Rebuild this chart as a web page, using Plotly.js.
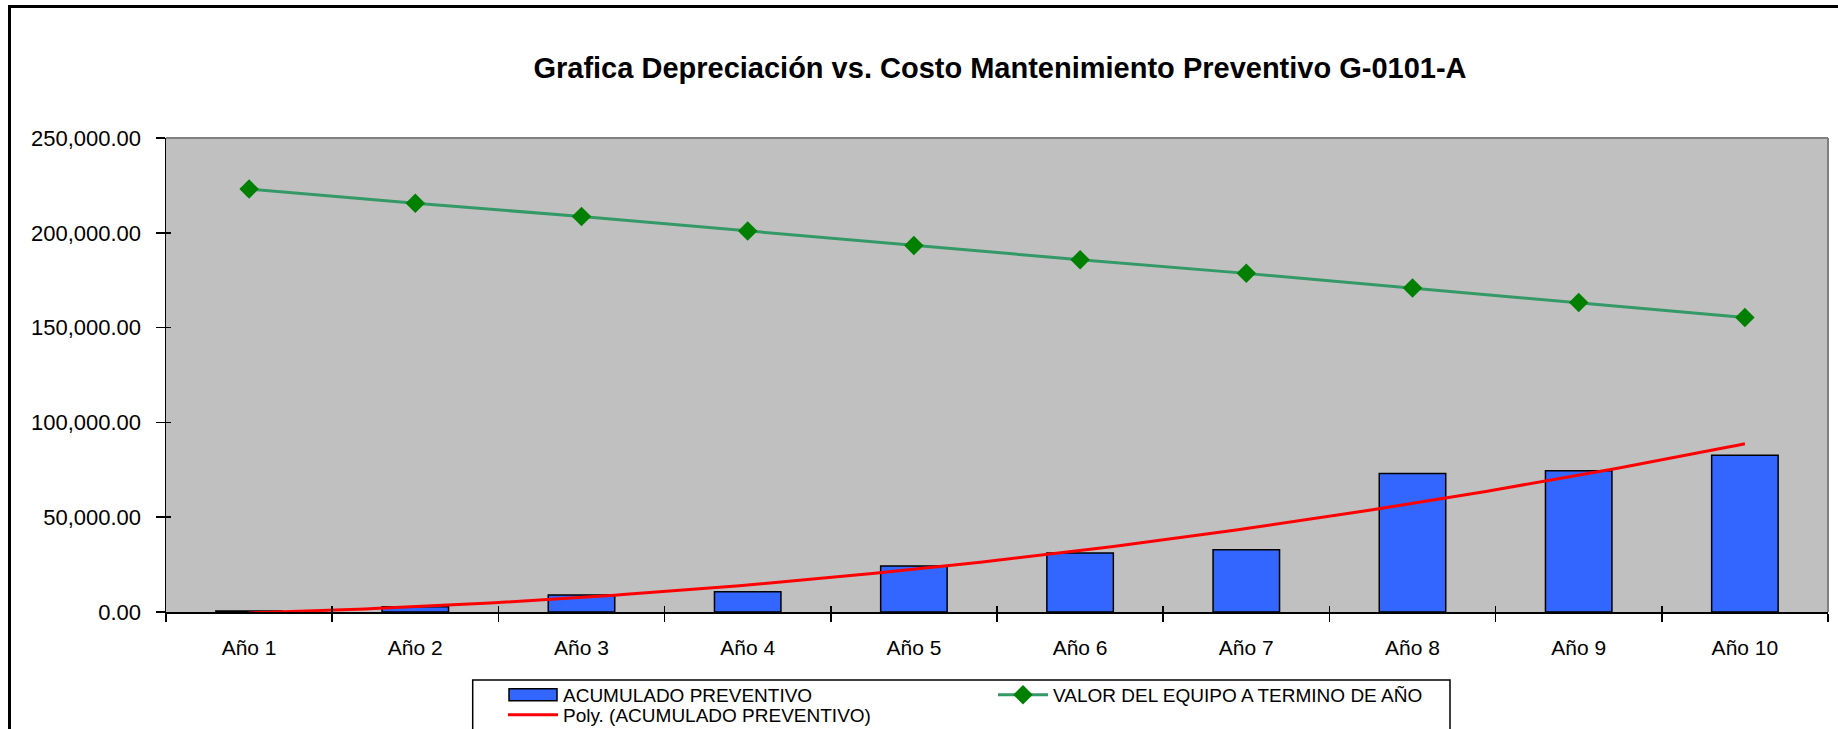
<!DOCTYPE html>
<html>
<head>
<meta charset="utf-8">
<script src="https://cdn.plot.ly/plotly-3.0.1.min.js"></script>
<style>
  html, body { margin: 0; padding: 0; background: #ffffff; }
  #chart { width: 1838px; height: 729px; }
</style>
</head>
<body>
<div id="chart"></div>
<script>
// Years of service
const years = ['Año 1', 'Año 2', 'Año 3', 'Año 4', 'Año 5', 'Año 6', 'Año 7', 'Año 8', 'Año 9', 'Año 10'];

// Accumulated preventive maintenance cost per year
const acumuladoPreventivo = [500, 2800, 8950, 10700, 24200, 31100, 32800, 73000, 74550, 82650];

// Equipment value at the end of each year
const valorEquipo = [223100, 215600, 208600, 200900, 193300, 185800, 178600, 170900, 163200, 155300];

// Series names
const nameBars = 'ACUMULADO PREVENTIVO';
const nameValue = 'VALOR DEL EQUIPO A TERMINO DE AÑO';
const nameTrend = 'Poly. (ACUMULADO PREVENTIVO)';

const chartTitle = 'Grafica Depreciación vs. Costo Mantenimiento Preventivo G-0101-A';

// ---- layout geometry (pixels) ----
const W = 1838, H = 729;
const M = { l: 166, r: 10, t: 138, b: 117 };
const PW = W - M.l - M.r, PH = H - M.t - M.b;
const px = x => (x - M.l) / PW;          // pixel x -> paper x
const py = y => (H - M.b - y) / PH;      // pixel y -> paper y

// ---- second-order polynomial trendline (least squares) ----
function quadFit(xs, ys) {
  let s = [0, 0, 0, 0, 0], t = [0, 0, 0];
  for (let i = 0; i < xs.length; i++) {
    const x = xs[i], y = ys[i];
    let p = 1;
    for (let k = 0; k < 5; k++) { s[k] += p; p *= x; }
    t[0] += y; t[1] += x * y; t[2] += x * x * y;
  }
  const A = [[s[0], s[1], s[2], t[0]], [s[1], s[2], s[3], t[1]], [s[2], s[3], s[4], t[2]]];
  for (let c = 0; c < 3; c++) {
    for (let r = c + 1; r < 3; r++) {
      const f = A[r][c] / A[c][c];
      for (let k = c; k < 4; k++) A[r][k] -= f * A[c][k];
    }
  }
  const coef = [0, 0, 0];
  for (let r = 2; r >= 0; r--) {
    let v = A[r][3];
    for (let k = r + 1; k < 3; k++) v -= A[r][k] * coef[k];
    coef[r] = v / A[r][r];
  }
  return coef;
}
const yearIdx = years.map((_, i) => i + 1);
const cf = quadFit(yearIdx, acumuladoPreventivo);
const trendX = [], trendY = [];
for (let x = 1; x <= years.length + 1e-9; x += 0.05) {
  trendX.push(x);
  trendY.push(cf[0] + cf[1] * x + cf[2] * x * x);
}

const FONT = 'Liberation Sans, Arial, Helvetica, sans-serif';

const traces = [
  {
    type: 'bar',
    x: years,
    y: acumuladoPreventivo,
    name: nameBars,
    marker: { color: '#3366FF', line: { color: '#000000', width: 1.5 } },
    legend: 'legend',
    hoverinfo: 'x+y'
  },
  {
    type: 'scatter',
    mode: 'lines+markers',
    x: years,
    y: valorEquipo,
    name: nameValue,
    line: { color: '#339966', width: 3 },
    marker: { symbol: 'diamond', size: 15, color: '#008000' },
    legend: 'legend2'
  },
  {
    type: 'scatter',
    mode: 'lines',
    x: trendX,
    y: trendY,
    xaxis: 'x2',
    yaxis: 'y2',
    name: nameTrend,
    line: { color: '#FF0000', width: 3 },
    legend: 'legend3',
    hoverinfo: 'skip'
  }
];

const yRange = [0, 250000];

const legendCommon = {
  orientation: 'v',
  xanchor: 'left',
  yanchor: 'top',
  bgcolor: 'rgba(0,0,0,0)',
  borderwidth: 0,
  itemwidth: 50,
  font: { family: FONT, size: 19, color: '#000000' }
};

const layout = {
  width: W,
  height: H,
  margin: { l: M.l, r: M.r, t: M.t, b: M.b, autoexpand: false },
  paper_bgcolor: '#FFFFFF',
  plot_bgcolor: '#C0C0C0',
  bargap: 0.6,
  title: {
    text: '<b>' + chartTitle + '</b>',
    font: { family: FONT, size: 29, color: '#000000' },
    x: 1000 / W,
    xanchor: 'center',
    y: 1 - 68 / H,
    yanchor: 'middle'
  },
  xaxis: {
    type: 'category',
    range: [-0.5, years.length - 0.5],
    tickson: 'boundaries',
    ticks: 'outside',
    ticklen: 8,
    tickwidth: 1.5,
    tickcolor: '#000000',
    showline: true,
    linecolor: '#000000',
    linewidth: 1.5,
    showgrid: false,
    zeroline: false,
    ticklabelstandoff: 16,
    tickfont: { family: FONT, size: 21, color: '#000000' },
    fixedrange: true
  },
  yaxis: {
    range: yRange,
    dtick: 50000,
    tickformat: ',.2f',
    ticks: 'outside',
    ticklen: 9,
    tickwidth: 1.5,
    tickcolor: '#000000',
    showline: true,
    linecolor: '#000000',
    linewidth: 1.5,
    showgrid: false,
    zeroline: false,
    ticklabelstandoff: 10,
    tickfont: { family: FONT, size: 22, color: '#000000' },
    fixedrange: true
  },
  // companion axes: inner half of the crossing tick marks, and the trendline scale
  xaxis2: {
    overlaying: 'x',
    anchor: 'y',
    side: 'bottom',
    type: 'linear',
    range: [0.5, years.length + 0.5],
    tick0: 0.5,
    dtick: 1,
    ticks: 'inside',
    ticklen: 6,
    tickwidth: 1.5,
    tickcolor: '#000000',
    showticklabels: false,
    showline: false,
    showgrid: false,
    zeroline: false,
    fixedrange: true
  },
  yaxis2: {
    overlaying: 'y',
    anchor: 'x',
    side: 'left',
    range: yRange,
    dtick: 50000,
    ticks: 'inside',
    ticklen: 5,
    tickwidth: 1.5,
    tickcolor: '#000000',
    showticklabels: false,
    showline: false,
    showgrid: false,
    zeroline: false,
    fixedrange: true
  },
  showlegend: true,
  legend: Object.assign({}, legendCommon, { x: px(503), y: py(676) }),
  legend2: Object.assign({}, legendCommon, { x: px(993), y: py(676) }),
  legend3: Object.assign({}, legendCommon, { x: px(503), y: py(696) }),
  shapes: [
    // chart frame (left and top edges)
    { type: 'line', xref: 'paper', yref: 'paper', x0: px(9.5), x1: px(9.5), y0: py(5.5), y1: py(760),
      line: { color: '#000000', width: 3 } },
    { type: 'line', xref: 'paper', yref: 'paper', x0: px(8), x1: px(1900), y0: py(6.5), y1: py(6.5),
      line: { color: '#000000', width: 3 } },
    // plot area frame (top and right edges)
    { type: 'line', xref: 'paper', yref: 'paper', x0: 0, x1: 1, y0: 1, y1: 1,
      line: { color: '#808080', width: 2 } },
    { type: 'line', xref: 'paper', yref: 'paper', x0: 1, x1: 1, y0: 0, y1: 1,
      line: { color: '#808080', width: 2 } },
    // legend box
    { type: 'rect', xref: 'paper', yref: 'paper', x0: px(472.7), x1: px(1450), y0: py(680), y1: py(780),
      line: { color: '#000000', width: 1.5 }, fillcolor: 'rgba(0,0,0,0)' }
  ]
};

Plotly.newPlot('chart', traces, layout, { displayModeBar: false, staticPlot: true }).then(gd => {
  // widen the bar swatch in the legend into a flat rectangle
  gd.querySelectorAll('.legendpoints path.legendbar, .legendpoints path.legendundefined').forEach(p => {
    p.setAttribute('d', 'M24,6H-24V-6H24Z');
  });
});
</script>
</body>
</html>
